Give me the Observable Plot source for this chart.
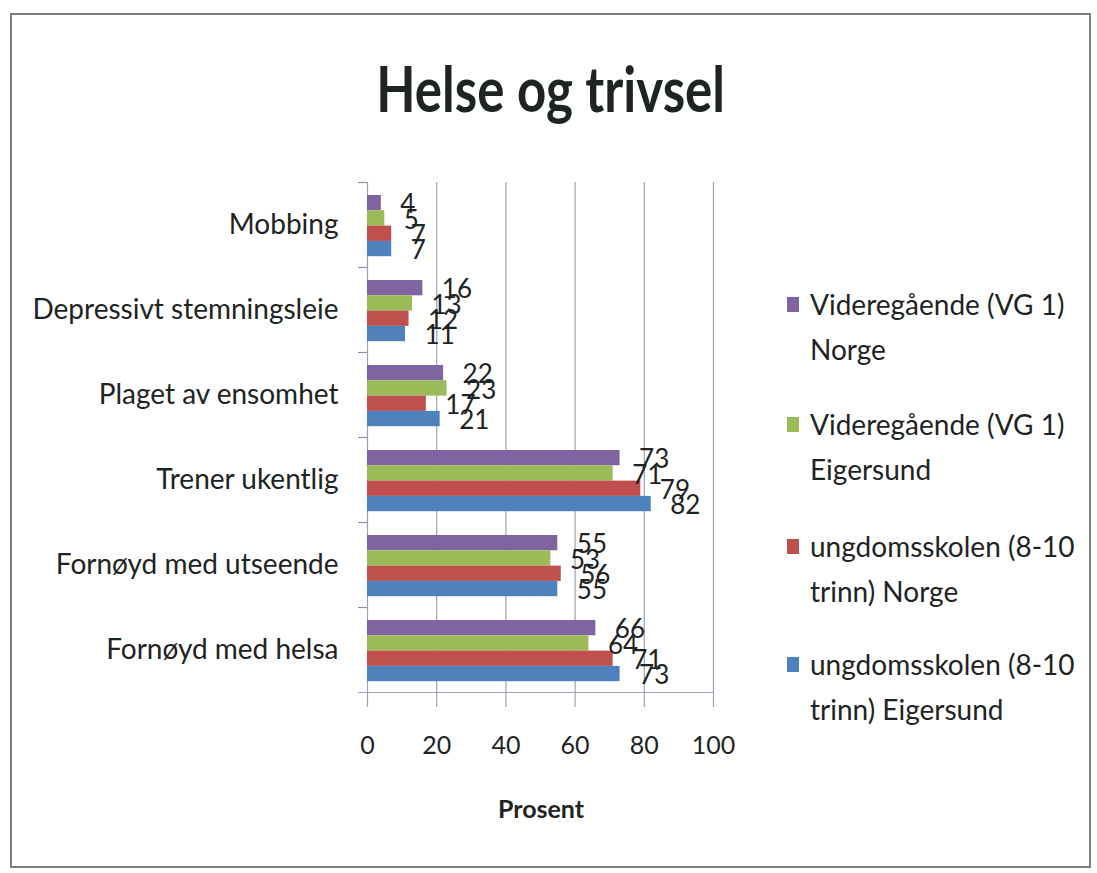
<!DOCTYPE html>
<html>
<head>
<meta charset="utf-8">
<script src="https://cdn.jsdelivr.net/npm/d3@7"></script>
<script src="https://cdn.jsdelivr.net/npm/@observablehq/plot@0.6"></script>
<style>
  html, body { margin: 0; padding: 0; background: #fff; overflow: hidden; }
  #wrap { position: relative; width: 1097px; height: 873px; font-family: Lato, "Open Sans", sans-serif; color: #1e2424; }
  #frame { position: absolute; left: 10px; top: 13px; width: 1081px; height: 855px; border: 2px solid #7a7f80; box-sizing: border-box; pointer-events: none; }
  #title { position: absolute; left: 0; width: 1097px; top: 51px; text-align: center; font-weight: 700; font-size: 63px; line-height: 74px; transform: scaleX(0.81); transform-origin: 560px 0; }
  #xlabel { position: absolute; left: 441px; width: 200px; top: 792px; text-align: center; font-weight: 700; font-size: 25px; line-height: 32px; }
  .leg { position: absolute; left: 787px; font-size: 28px; line-height: 45px; }
  .leg .sw { position: absolute; left: 0; top: 15px; width: 12px; height: 15px; }
  .leg .tx { position: absolute; left: 23px; top: 0; white-space: nowrap; }
  #chart { position: absolute; left: 0; top: 0; }
</style>
</head>
<body>
<div id="wrap">
  <div id="chart"></div>
  <div id="frame"></div>
  <div id="title">Helse og trivsel</div>
  <div id="xlabel">Prosent</div>
  <div id="legend"></div>
</div>
<script>
// Categories (top to bottom)
const categories = [
  "Mobbing",
  "Depressivt stemningsleie",
  "Plaget av ensomhet",
  "Trener ukentlig",
  "Fornøyd med utseende",
  "Fornøyd med helsa"
];
// Series (top bar to bottom bar within each group)
const seriesNames = [
  "Videregående (VG 1) Norge",
  "Videregående (VG 1) Eigersund",
  "ungdomsskolen (8-10 trinn) Norge",
  "ungdomsskolen (8-10 trinn) Eigersund"
];
const legendLines = [
  ["Videregående (VG 1)", "Norge"],
  ["Videregående (VG 1)", "Eigersund"],
  ["ungdomsskolen (8-10", "trinn) Norge"],
  ["ungdomsskolen (8-10", "trinn) Eigersund"]
];
const vgNorge       = [4, 16, 22, 73, 55, 66];
const vgEigersund   = [5, 13, 23, 71, 53, 64];
const ungNorge      = [7, 12, 17, 79, 56, 71];
const ungEigersund  = [7, 11, 21, 82, 55, 73];
const seriesValues = [vgNorge, vgEigersund, ungNorge, ungEigersund];
const colors = ["#8064A2", "#9BBB59", "#C0504D", "#4F81BD"];
const xTicks = [0, 20, 40, 60, 80, 100];

const W = 1097, H = 873;
const mTop = 182, mBottom = 181, mLeft = 367, mRight = 384;
const bw = (H - mTop - mBottom) / categories.length; // band height
const groupTop = 13, barH = 15.3;

const table = seriesValues.map((vals, s) =>
  vals.map((v, i) => ({category: categories[i], series: seriesNames[s], value: v}))
);

const marks = [];
// grid lines + left axis (extend below x axis)
marks.push(Plot.ruleX(xTicks, {stroke: "#9aa4b4", strokeWidth: 1.2, insetBottom: -15}));
// category boundary ticks on the left
marks.push(Plot.ruleY(categories, {y: d => d, x1: -2.6, x2: 0, dy: -bw / 2, stroke: "#8a93a0", strokeWidth: 1.2}));
// bottom axis line
marks.push(Plot.ruleY([categories[categories.length - 1]], {y: d => d, x1: -2.6, x2: 100, dy: bw / 2, stroke: "#9aa4b4", strokeWidth: 1.2}));

table.forEach((rows, s) => {
  const top = groupTop + s * barH;
  marks.push(Plot.barX(rows, {
    x: "value", y: "category", fill: colors[s],
    insetTop: top, insetBottom: bw - top - barH
  }));
});
table.forEach((rows, s) => {
  const center = groupTop + s * barH + barH / 2 - bw / 2;
  marks.push(Plot.text(rows, {
    x: "value", y: "category", text: d => String(d.value),
    dx: 19, dy: center + 2, textAnchor: "start",
    fontSize: 26, fill: "#1e2424"
  }));
});
marks.push(Plot.axisY({tickSize: 0, tickPadding: 29, fontSize: 28, fill: "#1e2424", label: null}));
marks.push(Plot.axisX({ticks: xTicks, tickSize: 0, tickPadding: 44, fontSize: 25, fill: "#1e2424", label: null}));

const chart = Plot.plot({
  width: W, height: H,
  marginTop: mTop, marginBottom: mBottom, marginLeft: mLeft, marginRight: mRight,
  style: {fontFamily: "Lato, 'Open Sans', sans-serif", background: "transparent", overflow: "visible"},
  x: {domain: [0, 100]},
  y: {domain: categories, padding: 0, align: 0.5},
  marks
});
document.getElementById("chart").appendChild(chart);

// legend
const legendTops = [282, 402, 524, 642];
const legend = document.getElementById("legend");
legendLines.forEach((lines, i) => {
  const d = document.createElement("div");
  d.className = "leg";
  d.style.top = legendTops[i] + "px";
  d.innerHTML = `<div class="sw" style="background:${colors[i]}"></div><div class="tx">${lines[0]}<br>${lines[1]}</div>`;
  legend.appendChild(d);
});
</script>
</body>
</html>
